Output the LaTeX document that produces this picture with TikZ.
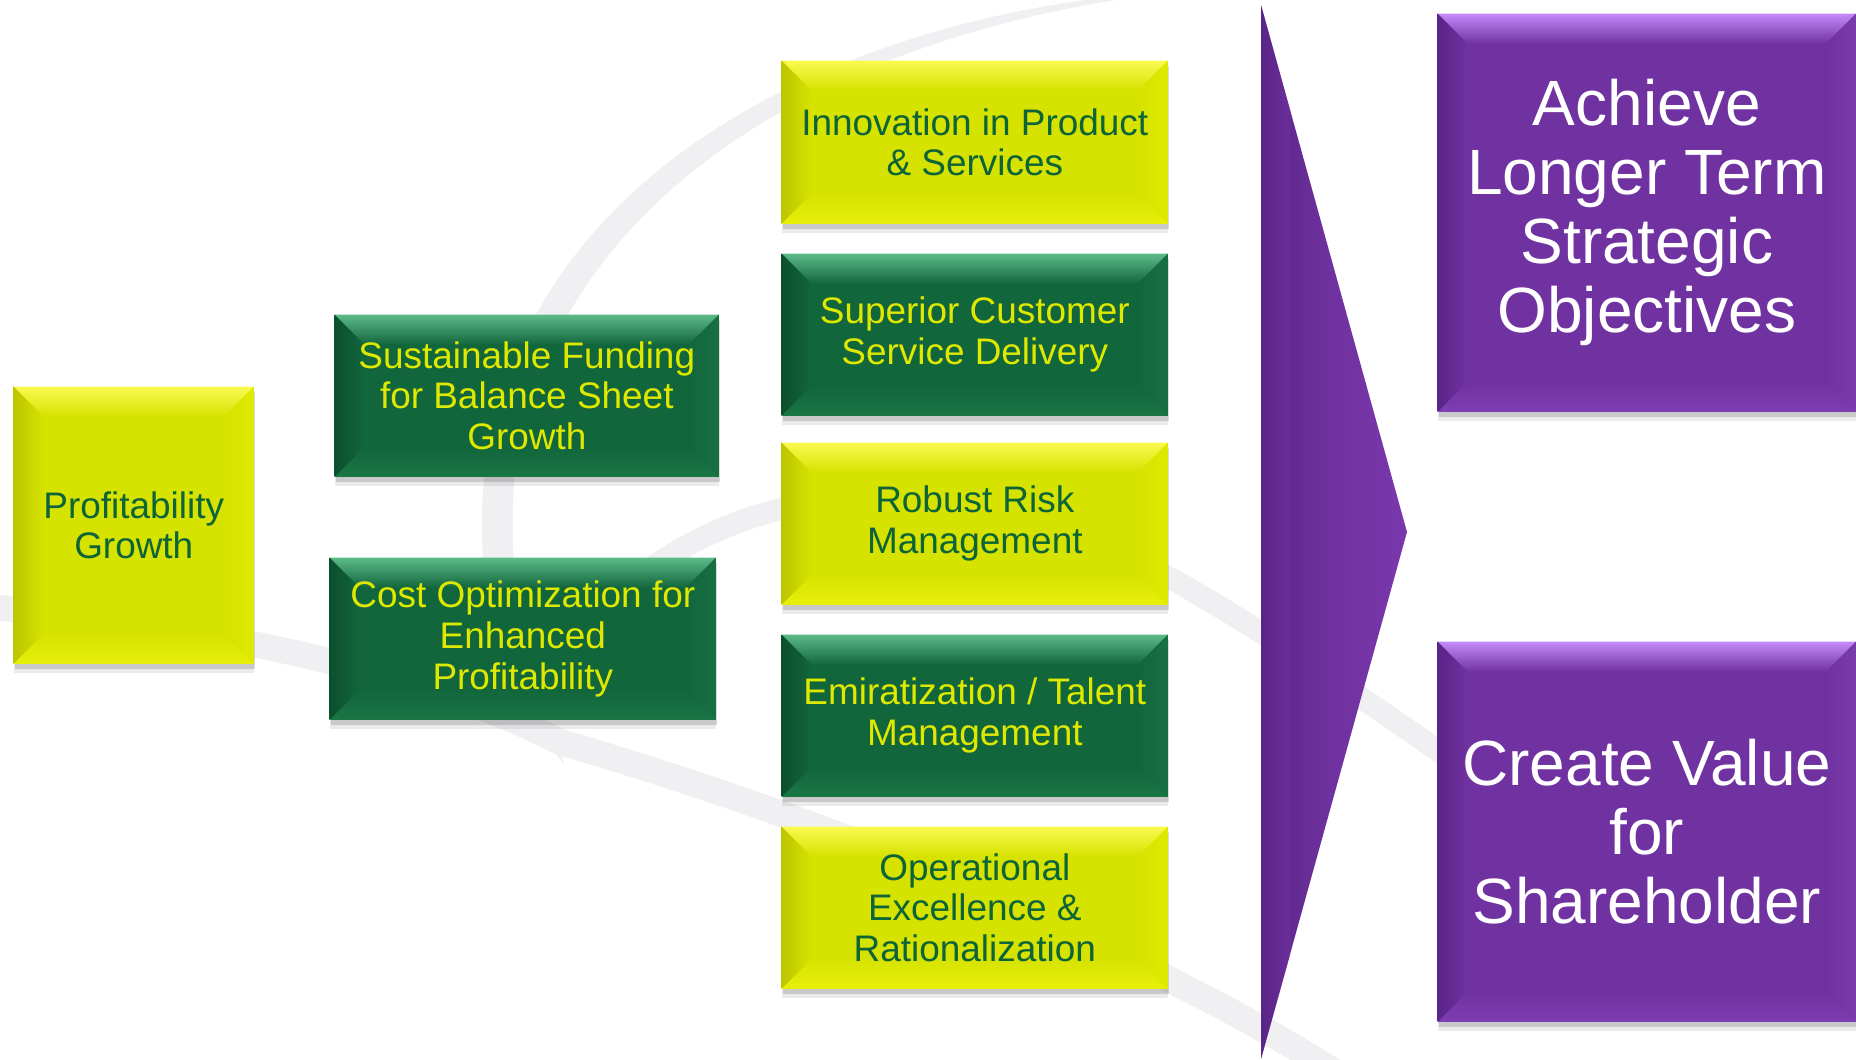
\documentclass[tikz,border=0pt]{standalone}
\usepackage{fontspec}
\setmainfont{Liberation Sans}
\usetikzlibrary{shadows}

\definecolor{ylwBase}{RGB}{214,226,0}
\definecolor{ylwTop}{RGB}{250,250,80}
\definecolor{ylwLeft}{RGB}{190,198,0}
\definecolor{ylwRight}{RGB}{224,234,0}
\definecolor{ylwBot}{RGB}{232,240,10}
\definecolor{grnBase}{RGB}{18,102,60}
\definecolor{grnTop}{RGB}{92,186,136}
\definecolor{grnLeft}{RGB}{11,80,45}
\definecolor{grnRight}{RGB}{24,112,66}
\definecolor{grnBot}{RGB}{26,118,68}
\definecolor{prpBase}{RGB}{112,50,160}
\definecolor{prpTop}{RGB}{196,138,250}
\definecolor{prpLeft}{RGB}{90,36,136}
\definecolor{prpRight}{RGB}{122,60,172}
\definecolor{prpBot}{RGB}{126,62,178}
\definecolor{prpLight}{RGB}{122,56,172}
\definecolor{txtGreen}{RGB}{12,100,56}
\definecolor{txtYellow}{RGB}{222,232,0}
\definecolor{swooshGray}{RGB}{240,240,242}

\tikzset{
  bevel/.style n args={5}{%
    fill=#1,
    path picture={
      \coordinate (bnw) at (path picture bounding box.north west);
      \coordinate (bne) at (path picture bounding box.north east);
      \coordinate (bsw) at (path picture bounding box.south west);
      \coordinate (bse) at (path picture bounding box.south east);
      \shade[top color=#2, bottom color=#1] (bnw) -- (bne) -- ([xshift=-0.3cm,yshift=-0.3cm]bne) -- ([xshift=0.3cm,yshift=-0.3cm]bnw) -- cycle;
      \shade[left color=#3, right color=#1] (bnw) -- ([xshift=0.3cm,yshift=-0.3cm]bnw) -- ([xshift=0.3cm,yshift=0.3cm]bsw) -- (bsw) -- cycle;
      \shade[left color=#1, right color=#4] (bne) -- (bse) -- ([xshift=-0.3cm,yshift=0.3cm]bse) -- ([xshift=-0.3cm,yshift=-0.3cm]bne) -- cycle;
      \shade[top color=#1, bottom color=#5] (bsw) -- ([xshift=0.3cm,yshift=0.3cm]bsw) -- ([xshift=-0.3cm,yshift=0.3cm]bse) -- (bse) -- cycle;
    }
  },
  boxbase/.style={anchor=north west, inner sep=0pt, align=center,
    drop shadow={shadow xshift=0cm, shadow yshift=-0.09cm, opacity=0.08, fill=black},
    drop shadow={shadow xshift=0.01cm, shadow yshift=-0.05cm, opacity=0.14, fill=black}},
  ylwbox/.style={boxbase, bevel={ylwBase}{ylwTop}{ylwLeft}{ylwRight}{ylwBot},
    text=txtGreen, font=\fontsize{10.5}{11.6}\selectfont},
  grnbox/.style={boxbase, bevel={grnBase}{grnTop}{grnLeft}{grnRight}{grnBot},
    text=txtYellow, font=\fontsize{10.5}{11.6}\selectfont},
  prpbox/.style={boxbase, bevel={prpBase}{prpTop}{prpLeft}{prpRight}{prpBot},
    text=white, font=\fontsize{18.2}{19.6}\selectfont},
  swoosh/.style={draw=swooshGray, line cap=round}
}

\begin{document}
\begin{tikzpicture}[x=0.01cm,y=-0.01cm]
\useasboundingbox (0,0) rectangle (1856,1059);
\fill[white] (0,0) rectangle (1856,1059);

% faint background watermark
\fill[swooshGray] (1200,-10) .. controls (900,0) and (530,140) .. (485,470)
  .. controls (470,600) and (510,700) .. (565,765)
  .. controls (530,690) and (505,600) .. (515,470)
  .. controls (560,160) and (900,15) .. (1200,-10) -- cycle;
\draw[swoosh, line width=0.26cm] (-20,606) .. controls (200,625) and (420,670) .. (560,742)
  .. controls (760,800) and (1000,890) .. (1180,985)
  .. controls (1250,1020) and (1300,1050) .. (1340,1075);
\draw[swoosh, line width=0.22cm] (590,618) .. controls (650,560) and (720,520) .. (800,505)
  .. controls (950,490) and (1080,530) .. (1170,578)
  .. controls (1280,640) and (1380,710) .. (1480,780);

% boxes
\node[ylwbox, minimum width=2.40cm, minimum height=2.77cm] (prof) at (13,386) {Profitability\\Growth};
\node[grnbox, minimum width=3.84cm, minimum height=1.62cm] (fund) at (334,314) {Sustainable Funding\\for Balance Sheet\\Growth};
\node[grnbox, minimum width=3.86cm, minimum height=1.62cm] (cost) at (329,557) {Cost Optimization for\\Enhanced\\Profitability};

\node[ylwbox, minimum width=3.86cm, minimum height=1.63cm] (innov) at (781,60) {Innovation in Product\\\& Services};
\node[grnbox, minimum width=3.86cm, minimum height=1.62cm] (cust) at (781,253) {Superior Customer\\Service Delivery};
\node[ylwbox, minimum width=3.86cm, minimum height=1.62cm] (risk) at (781,442) {Robust Risk\\Management};
\node[grnbox, minimum width=3.86cm, minimum height=1.62cm] (emir) at (781,634) {Emiratization / Talent\\Management};
\node[ylwbox, minimum width=3.86cm, minimum height=1.62cm] (oper) at (781,826) {Operational\\Excellence \&\\Rationalization};

% big purple arrow
\shade[left color=prpLeft, right color=prpLight, middle color=prpBase]
  (1261,5) -- (1407,532) -- (1261,1059) -- cycle;
\shade[left color=prpLeft, right color=prpBase, opacity=0.6]
  (1261,5) -- (1290,110) -- (1290,955) -- (1261,1059) -- cycle;

\node[prpbox, minimum width=4.18cm, minimum height=3.98cm] (achieve) at (1437,13) {Achieve\\Longer Term\\Strategic\\Objectives};
\node[prpbox, minimum width=4.18cm, minimum height=3.80cm] (value) at (1437,641) {Create Value\\for\\Shareholder};
\end{tikzpicture}
\end{document}
